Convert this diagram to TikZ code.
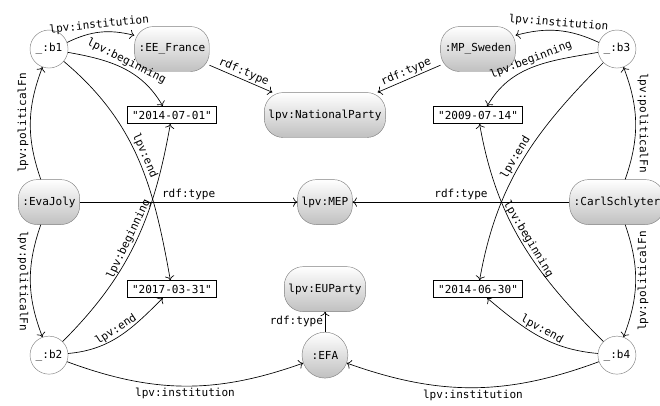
\documentclass[tikz,border=0pt]{standalone}
\usepackage{fontspec}
\setmonofont{DejaVu Sans Mono}
\usetikzlibrary{arrows.meta}
\begin{document}
\begin{tikzpicture}[
  font=\ttfamily,
  edge/.style={-{To[scale=1.35]},semithick},
  blank/.style={circle,draw=bordercolor,fill=white,minimum size=1.21cm,inner sep=0pt},
  resource/.style={rectangle,rounded corners=0.6cm,draw=bordercolor,top color=white,bottom color=shadecolor,minimum height=1.43cm,inner xsep=0.13cm},
  literal/.style={rectangle,draw=black,line width=0.8pt,minimum height=0.54cm,inner xsep=0.14cm,inner ysep=0pt},
  lbl/.style={inner sep=1.5pt}
]
\definecolor{bordercolor}{RGB}{128,128,128}
\definecolor{shadecolor}{RGB}{192,192,192}
\useasboundingbox (0,0) rectangle (21.00,12.89);
% nodes
\node[blank] (b1) at (1.56,11.33) {\_:b1};
\node[blank] (b2) at (1.56,1.59) {\_:b2};
\node[blank] (b3) at (19.63,11.33) {\_:b3};
\node[blank] (b4) at (19.63,1.59) {\_:b4};
\node[resource] (eva) at (1.56,6.46) {:EvaJoly};
\node[resource] (carl) at (19.63,6.46) {:CarlSchlyter};
\node[resource] (eefr) at (5.47,11.33) {:EE\_France};
\node[resource] (mpse) at (15.21,11.33) {:MP\_Sweden};
\node[resource] (natp) at (10.34,9.23) {lpv:NationalParty};
\node[resource] (mep) at (10.34,6.46) {lpv:MEP};
\node[resource] (eup) at (10.34,3.69) {lpv:EUParty};
\node[resource,circle,minimum size=1.46cm,inner sep=0pt] (efa) at (10.34,1.59) {:EFA};
\node[literal] (d1) at (5.47,9.23) {"2014-07-01"};
\node[literal] (d2) at (5.47,3.69) {"2017-03-31"};
\node[literal] (d3) at (15.21,9.23) {"2009-07-14"};
\node[literal] (d4) at (15.21,3.69) {"2014-06-30"};
% EvaJoly
\draw[edge] (eva) to[bend left=20] node[lbl,midway,rotate=90,anchor=south] {lpv:politicalFn} (b1);
\draw[edge] (eva) to[bend right=20] node[lbl,midway,rotate=-90,anchor=north] {lpv:politicalFn} (b2);
\draw[edge] (eva) -- node[lbl,above] {rdf:type} (mep);
\draw[edge] (b1) to[bend left=20] node[lbl,above,sloped] {lpv:institution} (eefr);
\draw[edge] (b1) to[out=-10,in=120] node[lbl,above,sloped] {lpv:beginning} ([xshift=-0.29cm]d1.north);
\draw[edge] (b1) to[out=-40,in=100] node[lbl,above,sloped] {lpv:end} (d2);
\draw[edge] (b2) to[out=45,in=-100] node[lbl,above,sloped] {lpv:beginning} (d1);
\draw[edge] (b2) to[out=5,in=-135] node[lbl,above,sloped] {lpv:end} ([xshift=-0.29cm]d2.south);
\draw[edge] (b2) to[bend right=20] node[lbl,below] {lpv:institution} (efa);
% CarlSchlyter
\draw[edge] (carl) to[bend right=20] node[lbl,midway,rotate=-90,anchor=south] {lpv:politicalFn} (b3);
\draw[edge] (carl) to[bend left=20] node[lbl,midway,rotate=90,anchor=north] {lpv:politicalFn} (b4);
\draw[edge] (carl) -- node[lbl,above] {rdf:type} (mep);
\draw[edge] (b3) to[bend right=20] node[lbl,above,sloped] {lpv:institution} (mpse);
\draw[edge] (b3) to[out=190,in=60] node[lbl,above,sloped] {lpv:beginning} ([xshift=0.29cm]d3.north);
\draw[edge] (b3) to[out=-135,in=80] node[lbl,above,sloped] {lpv:end} (d4);
\draw[edge] (b4) to[out=135,in=-80] node[lbl,above,sloped] {lpv:beginning} (d3);
\draw[edge] (b4) to[out=175,in=-40] node[lbl,above,sloped] {lpv:end} ([xshift=0.29cm]d4.south);
\draw[edge] (b4) to[bend left=20] node[lbl,below] {lpv:institution} (efa);
% types
\draw[edge] (eefr) -- node[lbl,above,sloped] {rdf:type} (natp);
\draw[edge] (mpse) -- node[lbl,above,sloped] {rdf:type} (natp);
\draw[edge] (efa) -- node[lbl,left] {rdf:type} (eup);
\end{tikzpicture}
\end{document}
